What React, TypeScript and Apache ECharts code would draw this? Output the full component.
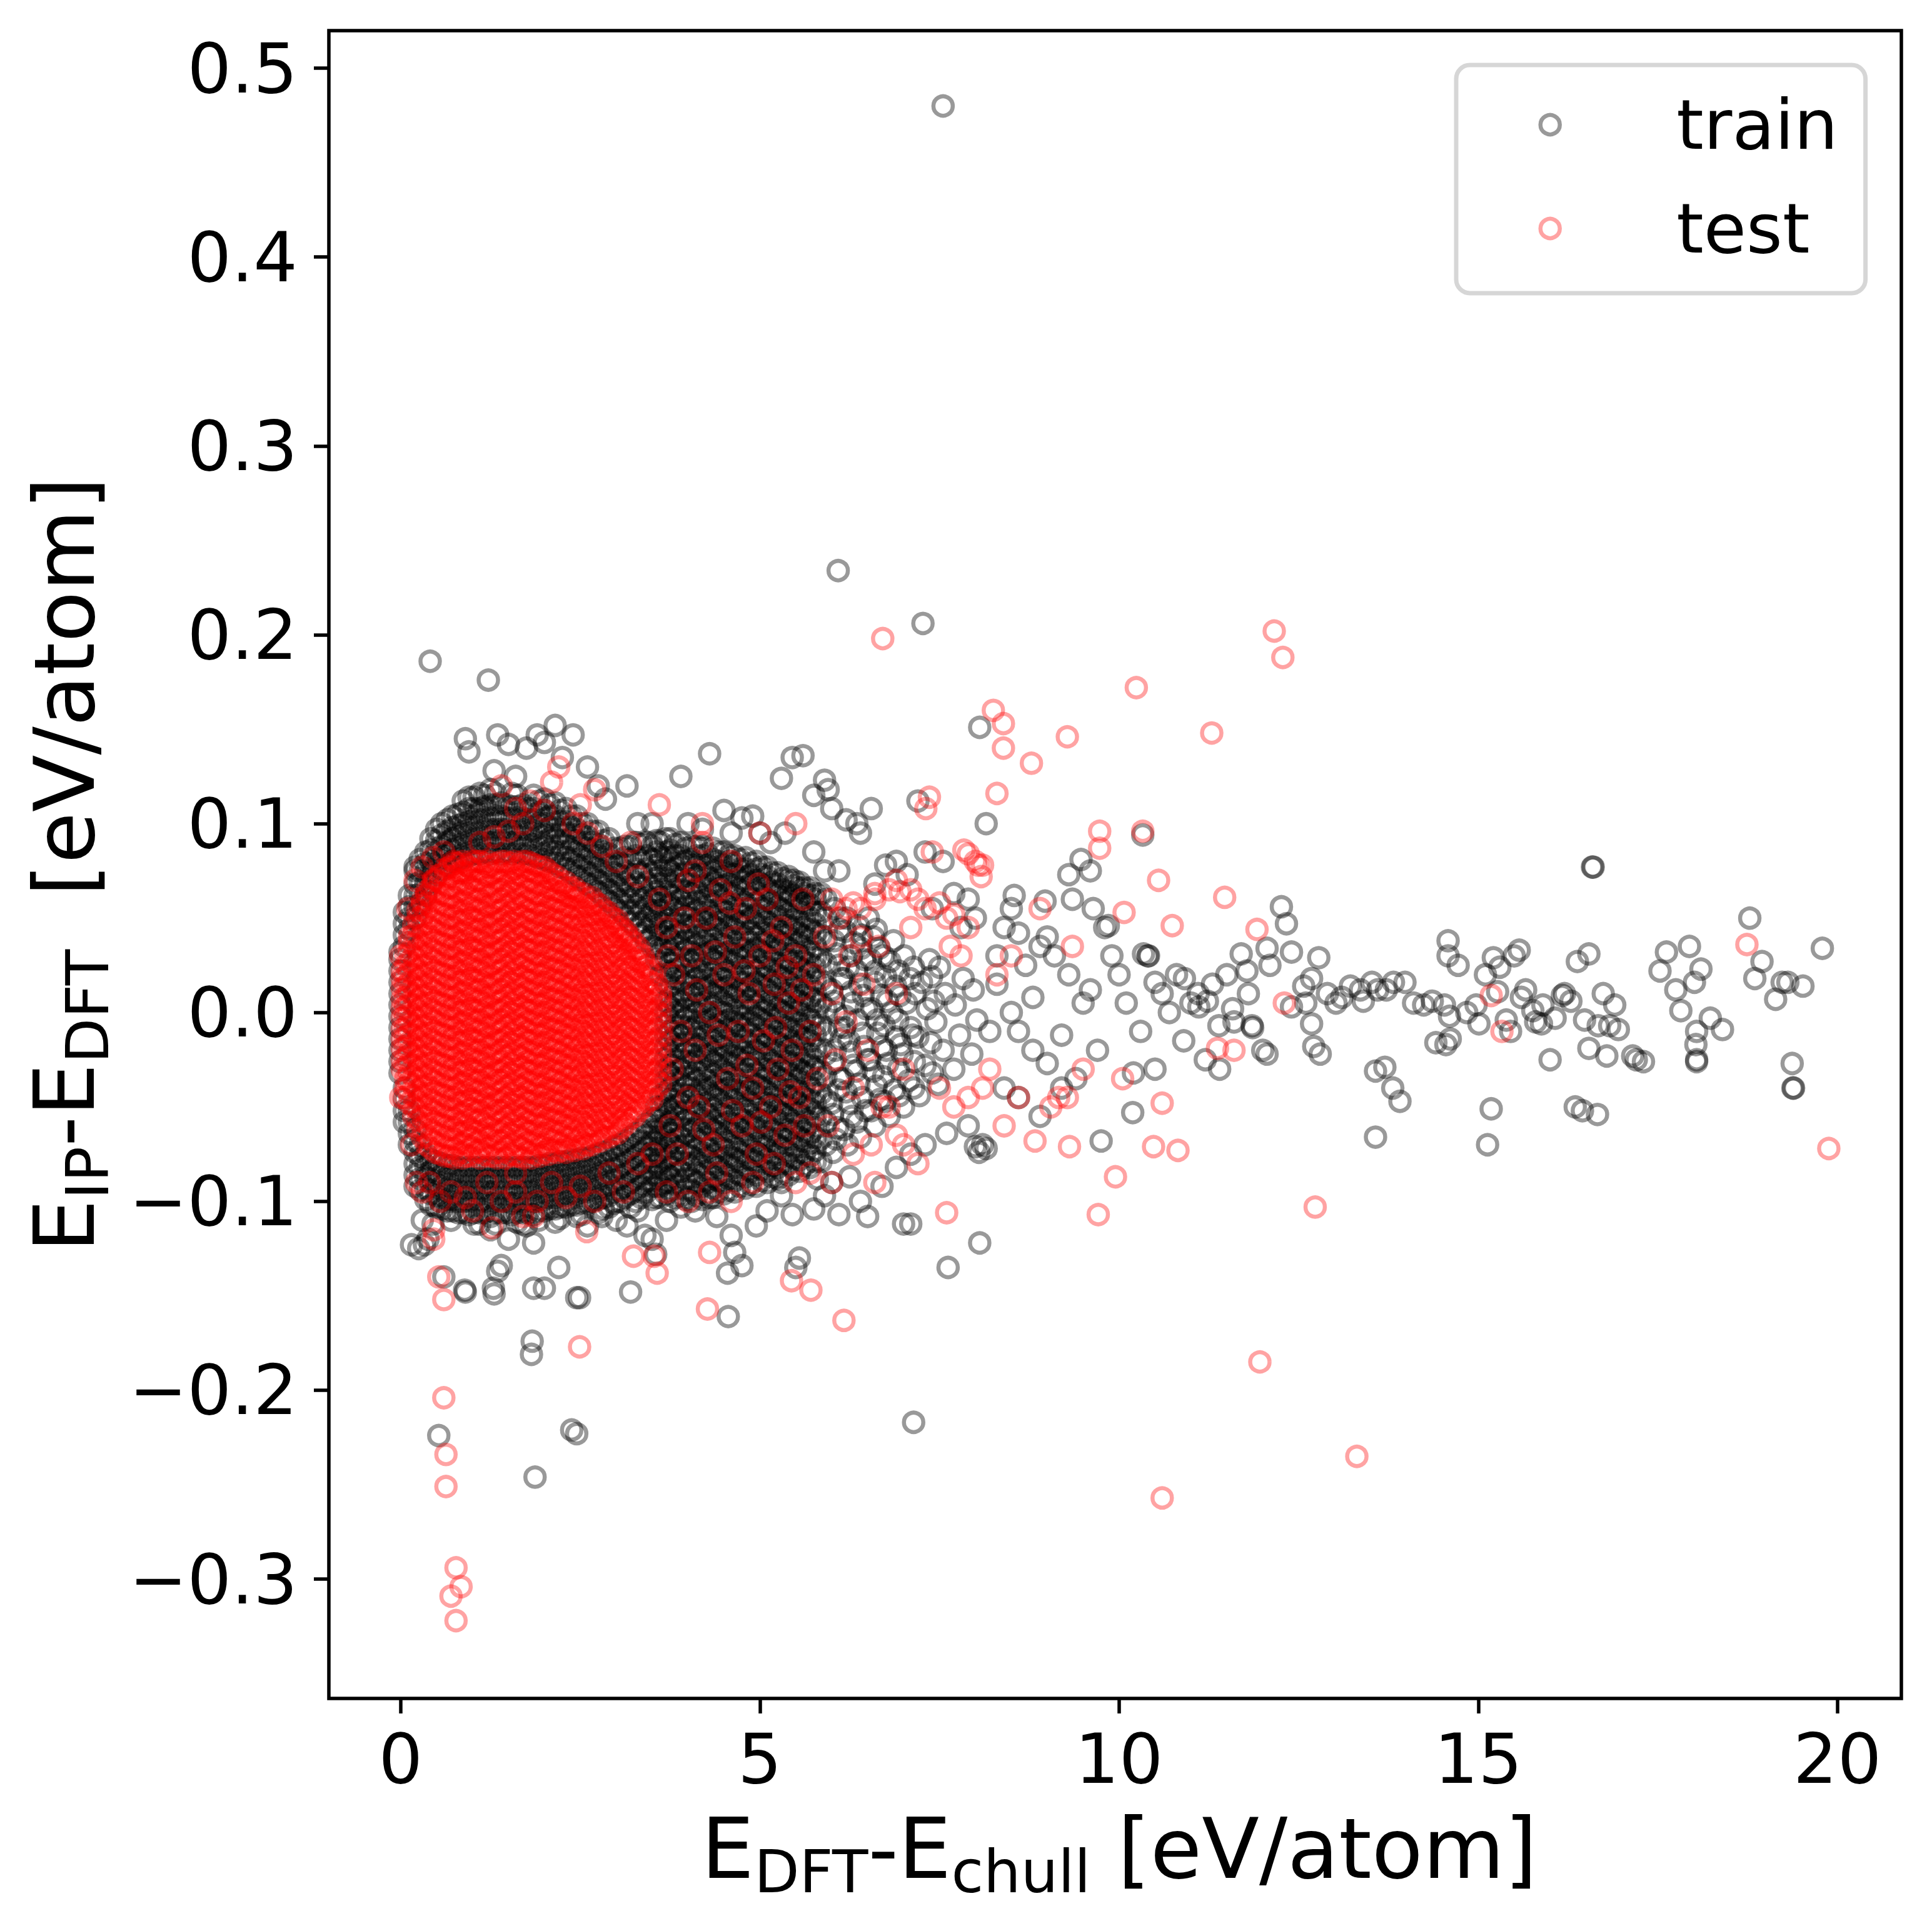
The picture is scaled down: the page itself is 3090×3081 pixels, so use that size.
import React, { useEffect, useRef } from 'react';
import * as echarts from 'echarts';

const FONT = 'DejaVu Sans';

const xTicks = [0, 5, 10, 15, 20];
const yTicks = [-0.3, -0.2, -0.1, 0, 0.1, 0.2, 0.3, 0.4, 0.5];

// Dense core of the test cloud: [x, y values in 1/1000 eV/atom]
const testCore: [number, number[]][] = [
  [0.02, [-30, -25, -19, -14, -9, -3, 2, 7, 13, 18, 22]],
  [0.12, [-48, -43, -37, -32, -27, -21, -16, -11, -5, 0, 5, 11, 16, 21, 27, 32, 37, 40]],
  [0.24, [-62, -57, -51, -46, -41, -35, -30, -25, -19, -14, -9, -3, 2, 7, 13, 18, 23, 29, 34, 39, 45, 50, 54]],
  [0.36, [-70, -65, -59, -54, -49, -43, -38, -33, -27, -22, -17, -11, -6, -1, 5, 10, 15, 21, 26, 31, 37, 42, 47, 53, 58, 62, 64]],
  [0.48, [-74, -69, -64, -58, -53, -48, -42, -37, -32, -26, -21, -16, -10, -5, 0, 6, 11, 16, 22, 27, 32, 38, 43, 48, 54, 59, 64, 70, 71]],
  [0.62, [-76, -71, -66, -60, -55, -50, -44, -39, -34, -28, -23, -18, -12, -7, -2, 4, 9, 14, 20, 25, 30, 36, 41, 46, 52, 57, 62, 68, 73, 76]],
  [0.74, [-77, -72, -67, -61, -56, -51, -45, -40, -35, -29, -24, -19, -13, -8, -3, 3, 8, 13, 19, 24, 29, 35, 40, 45, 51, 56, 61, 67, 72, 77, 80]],
  [0.86, [-77, -74, -69, -63, -58, -53, -47, -42, -37, -31, -26, -21, -15, -10, -5, 1, 6, 11, 17, 22, 27, 33, 38, 43, 49, 54, 59, 65, 70, 75, 80]],
  [0.98, [-76, -71, -66, -62, -57, -51, -46, -41, -36, -30, -25, -20, -14, -9, -4, 2, 7, 12, 18, 23, 28, 34, 39, 44, 50, 55, 60, 66, 71, 76, 80]],
  [1.10, [-77, -73, -68, -63, -57, -52, -47, -42, -36, -31, -26, -20, -15, -10, -4, 1, 6, 12, 17, 22, 28, 33, 38, 44, 49, 54, 60, 65, 70, 76, 80]],
  [1.22, [-76, -72, -66, -61, -56, -50, -45, -40, -34, -29, -24, -18, -13, -8, -2, 3, 8, 14, 19, 24, 30, 35, 40, 46, 51, 56, 62, 67, 72, 77, 80]],
  [1.34, [-77, -74, -68, -63, -58, -52, -47, -42, -36, -31, -26, -21, -15, -10, -5, 1, 6, 11, 16, 22, 27, 32, 38, 43, 48, 54, 59, 64, 70, 75, 79]],
  [1.46, [-77, -71, -66, -61, -55, -50, -45, -39, -34, -29, -23, -18, -13, -7, -2, 3, 9, 14, 19, 25, 30, 35, 41, 46, 51, 57, 62, 67, 73, 78, 80]],
  [1.58, [-76, -73, -68, -62, -57, -52, -46, -41, -36, -30, -25, -20, -14, -9, -4, 2, 7, 12, 18, 23, 28, 34, 39, 44, 50, 55, 60, 66, 71, 76, 80]],
  [1.70, [-77, -72, -67, -61, -56, -51, -45, -40, -35, -29, -24, -19, -13, -8, -3, 3, 8, 13, 19, 24, 29, 35, 40, 45, 51, 56, 61, 67, 72, 77, 80]],
  [1.82, [-77, -74, -69, -63, -58, -53, -47, -42, -37, -31, -26, -21, -15, -10, -5, 1, 6, 11, 17, 22, 27, 33, 38, 43, 49, 54, 59, 65, 70, 75, 79]],
  [1.94, [-76, -71, -66, -60, -55, -50, -44, -39, -34, -28, -23, -18, -12, -7, -2, 4, 9, 14, 20, 25, 30, 36, 41, 46, 52, 57, 62, 68, 73, 77]],
  [2.06, [-75, -72, -67, -62, -56, -51, -46, -40, -35, -30, -24, -19, -14, -8, -3, 2, 8, 13, 18, 24, 29, 34, 40, 45, 50, 56, 61, 66, 71, 75]],
  [2.18, [-74, -69, -64, -58, -53, -48, -42, -37, -32, -26, -21, -16, -10, -5, 0, 6, 11, 16, 22, 27, 32, 38, 43, 48, 54, 59, 64, 69, 72]],
  [2.30, [-74, -71, -66, -60, -55, -50, -44, -39, -34, -28, -23, -18, -12, -7, -2, 4, 9, 14, 20, 25, 30, 36, 41, 46, 52, 57, 62, 66, 69]],
  [2.42, [-73, -68, -63, -57, -52, -47, -41, -36, -31, -25, -20, -15, -9, -4, 1, 7, 12, 17, 23, 28, 33, 39, 44, 49, 55, 60, 64, 66]],
  [2.54, [-72, -69, -64, -58, -53, -48, -42, -37, -32, -26, -21, -16, -10, -5, 0, 6, 11, 16, 22, 27, 32, 38, 43, 48, 54, 58, 63]],
  [2.66, [-70, -65, -60, -54, -49, -44, -38, -33, -28, -22, -17, -12, -6, -1, 4, 10, 15, 20, 26, 31, 36, 42, 47, 52, 57, 61]],
  [2.78, [-68, -65, -60, -54, -49, -44, -38, -33, -28, -22, -17, -12, -6, -1, 4, 10, 15, 20, 26, 31, 36, 42, 47, 52, 57]],
  [2.90, [-66, -61, -56, -50, -45, -40, -34, -29, -24, -18, -13, -8, -2, 3, 8, 14, 19, 24, 30, 35, 40, 46, 51, 53]],
  [3.02, [-64, -61, -56, -50, -45, -40, -34, -29, -24, -18, -13, -8, -2, 3, 8, 14, 19, 24, 30, 35, 40, 45, 49]],
  [3.14, [-59, -54, -49, -43, -38, -33, -27, -22, -17, -11, -6, -1, 5, 10, 15, 21, 26, 31, 37, 41, 43]],
  [3.26, [-55, -52, -47, -41, -36, -31, -25, -20, -15, -9, -4, 1, 7, 12, 17, 23, 28, 33, 37]],
  [3.38, [-50, -45, -40, -34, -29, -24, -18, -13, -8, -2, 3, 8, 14, 19, 24, 28, 30]],
  [3.50, [-46, -43, -38, -32, -27, -22, -16, -11, -6, 0, 5, 10, 16, 20, 22]],
  [3.62, [-38, -33, -28, -22, -17, -12, -6, -1, 4, 8, 10]],
];

// Second, interleaved layer of the test core: [x, y values in 1/1000 eV/atom]
const testCore2: [number, number[]][] = [
  [0.07, [-40, -35, -29, -24, -18, -13, -8, -2, 3, 8, 14, 19, 25, 30]],
  [0.18, [-55, -50, -44, -39, -34, -28, -23, -18, -12, -7, -2, 4, 9, 14, 20, 25, 30, 36, 41, 46]],
  [0.30, [-66, -61, -55, -50, -45, -39, -34, -29, -23, -18, -13, -7, -2, 3, 9, 14, 19, 25, 30, 35, 41, 46, 51, 57, 59]],
  [0.42, [-72, -67, -62, -56, -51, -46, -40, -35, -30, -24, -19, -14, -8, -3, 2, 8, 13, 18, 24, 29, 34, 40, 45, 50, 56, 61, 66]],
  [0.55, [-75, -70, -65, -59, -54, -49, -43, -38, -33, -27, -22, -17, -11, -6, -1, 5, 10, 15, 21, 26, 31, 37, 42, 47, 53, 58, 63, 69, 73]],
  [0.68, [-76, -72, -67, -62, -56, -51, -46, -40, -35, -30, -24, -19, -14, -8, -3, 2, 8, 13, 18, 24, 29, 34, 40, 45, 50, 56, 61, 66, 72, 77]],
  [0.80, [-75, -70, -64, -59, -54, -48, -43, -38, -32, -27, -22, -16, -11, -6, 0, 5, 10, 16, 21, 26, 32, 37, 42, 48, 53, 58, 64, 69, 74, 79]],
  [0.92, [-76, -70, -65, -60, -54, -49, -44, -38, -33, -28, -22, -17, -12, -6, -1, 4, 10, 15, 20, 26, 31, 36, 42, 47, 52, 58, 63, 68, 74, 78]],
  [1.04, [-74, -69, -63, -58, -53, -47, -42, -37, -31, -26, -21, -15, -10, -5, 1, 6, 11, 17, 22, 27, 33, 38, 43, 49, 54, 59, 65, 70, 75, 80]],
  [1.16, [-75, -71, -64, -59, -55, -48, -43, -39, -32, -27, -23, -16, -11, -7, 0, 5, 9, 16, 21, 25, 32, 37, 41, 48, 53, 57, 64, 69, 73, 79]],
  [1.28, [-76, -70, -65, -61, -54, -49, -45, -38, -33, -29, -22, -17, -13, -6, -1, 3, 10, 15, 19, 26, 31, 35, 42, 47, 51, 58, 63, 67, 74, 78]],
  [1.40, [-74, -68, -63, -58, -52, -47, -42, -36, -31, -26, -20, -15, -10, -4, 1, 6, 12, 17, 22, 28, 33, 38, 44, 49, 54, 60, 65, 70, 75, 80]],
  [1.52, [-75, -70, -64, -59, -54, -48, -43, -38, -32, -27, -22, -16, -11, -6, 0, 5, 10, 16, 21, 26, 32, 37, 42, 48, 53, 58, 64, 69, 74, 79]],
  [1.64, [-76, -71, -65, -60, -55, -49, -44, -39, -33, -28, -23, -17, -12, -7, -1, 4, 9, 15, 20, 25, 31, 36, 41, 47, 52, 57, 63, 68, 73, 78]],
  [1.76, [-74, -69, -63, -58, -53, -47, -42, -37, -31, -26, -21, -15, -10, -5, 1, 6, 11, 17, 22, 27, 33, 38, 43, 49, 54, 59, 65, 70, 75, 80]],
  [1.88, [-75, -70, -65, -59, -54, -49, -43, -38, -33, -27, -22, -17, -11, -6, -1, 5, 10, 15, 21, 26, 31, 37, 42, 47, 53, 58, 63, 69, 74, 78]],
  [2.00, [-74, -70, -64, -59, -54, -48, -43, -38, -32, -27, -22, -16, -11, -6, 0, 5, 10, 16, 21, 26, 32, 37, 42, 48, 53, 58, 64, 69, 74, 77]],
  [2.12, [-73, -68, -63, -57, -52, -47, -41, -36, -31, -25, -20, -15, -9, -4, 1, 7, 12, 17, 23, 28, 33, 39, 44, 49, 55, 60, 65, 70, 73]],
  [2.24, [-73, -69, -63, -58, -53, -47, -42, -37, -31, -26, -21, -15, -10, -5, 1, 6, 11, 17, 22, 27, 33, 38, 43, 49, 54, 59, 64, 68]],
  [2.36, [-72, -66, -61, -56, -50, -45, -40, -34, -29, -24, -18, -13, -8, -2, 3, 8, 14, 19, 24, 30, 35, 40, 46, 51, 56, 61, 66]],
  [2.48, [-71, -66, -61, -55, -50, -45, -39, -34, -29, -23, -18, -13, -7, -2, 3, 9, 14, 19, 25, 30, 35, 41, 46, 51, 56, 61, 63]],
  [2.60, [-70, -66, -61, -55, -50, -45, -39, -34, -29, -23, -18, -13, -7, -2, 3, 9, 14, 19, 25, 30, 35, 41, 46, 51, 56, 60]],
  [2.72, [-68, -63, -57, -52, -47, -41, -36, -31, -25, -20, -15, -9, -4, 1, 7, 12, 17, 23, 28, 33, 39, 44, 49, 54, 58]],
  [2.84, [-66, -62, -57, -52, -46, -41, -36, -30, -25, -20, -14, -9, -4, 2, 7, 12, 18, 23, 28, 34, 39, 44, 50, 54]],
  [2.96, [-64, -59, -53, -48, -43, -37, -32, -27, -21, -16, -11, -5, 0, 5, 11, 16, 21, 27, 32, 37, 43, 47, 50]],
  [3.08, [-61, -57, -52, -47, -41, -36, -31, -25, -20, -15, -9, -4, 1, 7, 12, 17, 23, 28, 33, 39, 43, 45]],
  [3.20, [-56, -51, -46, -40, -35, -30, -24, -19, -14, -8, -3, 2, 8, 13, 18, 24, 29, 34, 38, 40]],
  [3.32, [-52, -48, -43, -37, -32, -27, -21, -16, -11, -5, 0, 5, 11, 16, 21, 27, 31, 34]],
  [3.44, [-47, -42, -37, -31, -26, -21, -15, -10, -5, 1, 6, 11, 17, 22, 25]],
  [3.56, [-41, -36, -31, -25, -20, -15, -9, -4, 1, 7, 12, 15]],
];

// Dense part of the train cloud: [x, y values in 1/1000 eV/atom]
const trainCols: [number, number[]][] = [
  [-0.01, [-32, -26, -20, -14, -8, -2, 4, 10, 16, 22, 28, 32]],
  [0.05, [35, 41, 47, 53, -40, -46, -52, -58]],
  [0.12, [44, 50, 56, 62, -52, -58, -64, -70]],
  [0.2, [50, 56, 62, 68, 75, -62, -68, -74, -80, -86, -92]],
  [0.27, [57, 63, 69, 75, 81, -70, -76, -82, -88, -94]],
  [0.35, [62, 68, 74, 79, 85, -75, -81, -87, -93, -99]],
  [0.42, [68, 74, 80, 86, 92, -78, -84, -90, -96, -102]],
  [0.5, [73, 79, 85, 91, 97, -79, -85, -91, -97, -103]],
  [0.57, [76, 82, 88, 94, 100, -80, -86, -92, -98, -104]],
  [0.65, [78, 84, 90, 96, 102, -81, -87, -93, -99, -105]],
  [0.72, [80, 86, 92, 98, 104, -81, -87, -93, -99, -105]],
  [0.8, [81, 87, 93, 99, 105, -82, -88, -94, -100, -106]],
  [0.87, [82, 88, 94, 100, 106, 112, -82, -88, -94, -100, -106]],
  [0.95, [83, 89, 95, 101, 108, 114, -82, -88, -94, -100, -107]],
  [1.02, [84, 90, 96, 102, 108, 114, -82, -88, -94, -100, -106, -112]],
  [1.1, [84, 90, 96, 102, 108, 116, -82, -88, -94, -100, -106, -112]],
  [1.17, [85, 91, 97, 103, 109, 115, -82, -88, -94, -100, -106]],
  [1.25, [84, 90, 97, 103, 110, 118, -82, -88, -95, -101, -108]],
  [1.32, [85, 91, 97, 104, 110, 116, -82, -88, -94, -100, -106, -112]],
  [1.4, [84, 91, 97, 104, 111, -82, -88, -94, -100, -106]],
  [1.47, [85, 91, 97, 103, 110, -82, -88, -94, -100, -106]],
  [1.55, [84, 90, 96, 103, 109, 116, -82, -88, -95, -101, -107]],
  [1.62, [85, 91, 97, 103, 109, 115, -82, -88, -94, -100, -106, -111]],
  [1.7, [84, 90, 97, 103, 110, -82, -88, -94, -100, -106, -112]],
  [1.77, [84, 90, 96, 102, 108, -82, -88, -94, -100, -106]],
  [1.85, [83, 89, 96, 102, 108, 115, -82, -88, -94, -100, -107]],
  [1.92, [82, 88, 94, 100, 106, 112, -81, -87, -93, -99, -105, -110]],
  [2.0, [81, 88, 94, 100, 107, 113, -81, -87, -93, -99, -105]],
  [2.07, [80, 86, 92, 98, 104, 110, -80, -86, -92, -98, -104]],
  [2.15, [79, 85, 92, 98, 104, 111, -80, -86, -92, -98, -104, -111]],
  [2.22, [77, 83, 89, 95, 101, 107, -79, -85, -91, -97, -103, -109]],
  [2.3, [76, 82, 89, 95, 101, 108, -79, -85, -91, -97, -103]],
  [2.37, [74, 80, 86, 92, 98, 104, -78, -84, -90, -96, -102]],
  [2.45, [72, 78, 85, 91, 97, 104, -78, -84, -90, -96, -102, -108]],
  [2.52, [70, 76, 82, 88, 94, 100, -77, -83, -89, -95, -101, -107]],
  [2.6, [68, 74, 81, 87, 93, 100, -77, -83, -89, -95, -101]],
  [2.67, [66, 72, 78, 84, 90, 96, -76, -82, -88, -94, -100]],
  [2.75, [64, 70, 77, 83, 89, 96, -75, -81, -87, -93, -99, -106]],
  [2.82, [61, 67, 73, 79, 85, 91, -74, -80, -86, -92, -98, -104]],
  [2.9, [59, 65, 72, 78, 84, 92, -73, -79, -85, -91, -97, -103]],
  [2.97, [56, 62, 68, 74, 80, 87, -71, -77, -83, -89, -95, -101]],
  [3.05, [54, 60, 67, 73, 79, 87, -70, -76, -82, -88, -94, -100]],
  [3.12, [51, 57, 63, 69, 75, 82, 88, -68, -74, -80, -86, -92, -98]],
  [3.2, [48, 54, 61, 67, 73, 81, 88, -66, -72, -78, -84, -90, -96, -103]],
  [3.27, [45, 51, 57, 63, 69, 76, 83, 90, -64, -70, -76, -82, -88, -94, -100]],
  [3.35, [42, 48, 55, 61, 67, 74, 82, 89, -62, -68, -74, -80, -86, -92, -98]],
  [3.42, [38, 44, 50, 56, 62, 69, 76, 83, 90, -59, -65, -71, -77, -83, -89, -95]],
  [3.5, [35, 41, 48, 54, 60, 67, 74, 81, 88, -56, -62, -68, -74, -80, -86, -92, -99]],
  [3.56, [28, 34, 40, 46, 52, 58, 64, 71, 78, 85, 91, -50, -56, -62, -68, -74, -80, -86, -92, -98]],
  [3.62, [20, 27, 34, 41, 47, 54, 61, 68, 75, 82, 90, -44, -50, -56, -62, -68, -74, -80, -86, -92, -98]],
  [3.69, [-96, -90, -84, -78, -72, -66, -60, -54, -48, -42, -36, -30, -24, -18, -12, -6, 0, 6, 15, 22, 29, 36, 43, 50, 57, 64, 71, 78, 85, 92]],
  [3.75, [-100, -94, -87, -82, -76, -69, -64, -58, -51, -46, -40, -33, -28, -22, -15, -10, -4, 3, 8, 14, 21, 26, 32, 39, 44, 50, 57, 62, 68, 75, 80, 86, 92]],
  [3.82, [-98, -91, -85, -79, -72, -67, -61, -54, -49, -43, -36, -31, -25, -18, -13, -7, 0, 5, 11, 18, 23, 29, 36, 41, 47, 54, 59, 65, 72, 77, 83, 89]],
  [3.9, [-97, -91, -84, -79, -73, -66, -61, -55, -48, -43, -37, -30, -25, -19, -12, -7, -1, 6, 11, 17, 24, 29, 35, 42, 47, 53, 60, 65, 71, 78, 83, 90]],
  [3.97, [-99, -94, -88, -82, -75, -70, -64, -57, -52, -46, -39, -34, -28, -21, -16, -10, -3, 2, 8, 15, 20, 26, 33, 38, 44, 51, 56, 62, 69, 74, 80, 87]],
  [4.05, [-100, -94, -88, -81, -76, -70, -63, -58, -52, -45, -40, -34, -27, -22, -16, -9, -4, 2, 9, 14, 20, 27, 32, 38, 45, 50, 56, 63, 68, 74, 81, 88]],
  [4.12, [-97, -90, -85, -79, -72, -67, -61, -54, -49, -43, -36, -31, -25, -18, -13, -7, 0, 5, 11, 18, 23, 29, 36, 41, 47, 54, 59, 65, 72, 77, 83, 88]],
  [4.2, [-99, -92, -86, -80, -74, -68, -62, -56, -50, -43, -38, -31, -25, -19, -13, -7, -1, 5, 12, 17, 23, 30, 35, 41, 48, 53, 59, 66, 71, 77, 83, 88]],
  [4.27, [-96, -90, -84, -77, -72, -66, -59, -54, -48, -41, -36, -30, -23, -18, -12, -5, 0, 6, 13, 18, 24, 31, 36, 42, 49, 54, 60, 67, 72, 78, 84]],
  [4.35, [-98, -93, -87, -80, -75, -69, -62, -57, -51, -44, -39, -33, -26, -21, -15, -8, -3, 3, 10, 15, 21, 28, 33, 39, 46, 51, 57, 64, 69, 75, 81, 87]],
  [4.42, [-95, -89, -82, -77, -71, -64, -59, -53, -46, -41, -35, -28, -23, -17, -10, -5, 1, 8, 13, 19, 26, 31, 37, 44, 49, 55, 62, 67, 73, 80, 85]],
  [4.5, [-96, -90, -84, -77, -72, -66, -59, -54, -48, -41, -36, -30, -23, -18, -12, -5, 0, 6, 13, 18, 24, 31, 36, 42, 49, 54, 60, 67, 72, 78, 85]],
  [4.57, [-94, -88, -81, -76, -70, -63, -58, -52, -45, -40, -34, -27, -22, -16, -9, -4, 2, 9, 14, 20, 27, 32, 38, 45, 50, 56, 63, 68, 74, 80, 83]],
  [4.65, [-95, -89, -82, -77, -71, -64, -59, -53, -46, -41, -35, -28, -23, -17, -10, -5, 1, 8, 13, 19, 26, 31, 37, 44, 49, 55, 62, 67, 73, 79, 83]],
  [4.72, [-92, -86, -79, -74, -68, -61, -56, -50, -43, -38, -32, -25, -20, -14, -7, -2, 4, 11, 16, 22, 29, 34, 40, 47, 52, 58, 65, 70, 76, 81]],
  [4.8, [-93, -87, -81, -75, -69, -63, -57, -51, -44, -39, -32, -26, -20, -14, -8, -2, 4, 11, 16, 22, 29, 34, 40, 47, 52, 58, 65, 70, 76, 82]],
  [4.87, [-91, -84, -78, -72, -66, -60, -54, -48, -41, -36, -29, -23, -17, -11, -5, 1, 7, 14, 19, 25, 32, 37, 43, 50, 55, 61, 68, 73, 79]],
  [4.95, [-92, -86, -79, -74, -68, -61, -56, -50, -43, -38, -32, -25, -20, -14, -7, -2, 4, 11, 16, 22, 29, 34, 40, 47, 52, 58, 65, 70, 76, 80]],
  [5.02, [-89, -83, -76, -71, -65, -58, -53, -47, -40, -35, -29, -22, -17, -11, -4, 1, 7, 14, 19, 25, 32, 37, 43, 50, 55, 61, 68, 73, 77]],
  [5.1, [-90, -84, -78, -71, -66, -60, -53, -48, -42, -35, -30, -24, -17, -12, -6, 1, 6, 12, 19, 24, 30, 37, 42, 48, 55, 60, 66, 72, 77]],
  [5.17, [-87, -81, -75, -68, -63, -57, -50, -45, -39, -32, -27, -21, -14, -9, -3, 4, 9, 15, 22, 27, 33, 40, 45, 51, 58, 63, 69, 74]],
  [5.25, [-88, -82, -75, -70, -64, -57, -52, -46, -39, -34, -28, -21, -16, -10, -3, 2, 8, 15, 20, 26, 33, 38, 44, 51, 56, 62, 68, 74]],
  [5.32, [-85, -79, -72, -67, -61, -54, -49, -43, -36, -31, -25, -18, -13, -7, 0, 5, 11, 18, 23, 29, 36, 41, 47, 54, 59, 65, 71]],
  [5.4, [-86, -80, -74, -67, -62, -56, -49, -44, -38, -31, -26, -20, -13, -8, -2, 5, 10, 16, 23, 28, 34, 41, 46, 52, 59, 64, 70, 72]],
  [5.47, [-83, -77, -71, -64, -59, -53, -46, -41, -35, -28, -23, -17, -10, -5, 1, 8, 13, 19, 26, 31, 37, 44, 49, 55, 62, 67, 70]],
  [5.55, [-84, -78, -71, -66, -60, -53, -48, -42, -35, -30, -24, -17, -12, -6, 1, 6, 12, 19, 24, 30, 37, 42, 48, 55, 60, 66, 69]],
  [5.62, [-81, -75, -68, -63, -57, -50, -45, -39, -32, -27, -21, -14, -9, -3, 4, 9, 15, 22, 27, 33, 40, 45, 51, 58, 63, 66]],
  [5.7, [-82, -76, -69, -64, -58, -51, -46, -40, -33, -28, -22, -15, -10, -4, 3, 8, 14, 21, 26, 32, 39, 44, 50, 57, 62, 66]],
  [5.77, [-79, -73, -66, -61, -55, -48, -43, -37, -30, -25, -19, -12, -7, -1, 6, 11, 17, 24, 29, 35, 42, 47, 53, 60, 63]],
  [5.85, [-79, -67, -55, -43, -31, -19, -7, 5, 17, 29, 41, 53, 63]],
  [5.92, [-70, -58, -46, -34, -22, -10, 2, 14, 26, 38, 50, 60]],
];

// Individual train points: [x, y] in eV/atom
const trainPoints: [number, number][] = [
  [6.02, -0.074], [6.08, -0.061], [6.0, -0.048], [6.12, -0.035], [6.05, -0.02], [6.1, -0.008], [6.03, 0.006], [6.14, 0.018], [6.07, 0.031], [6.11, 0.044], [6.04, 0.055],
  [6.22, -0.07], [6.28, -0.055], [6.2, -0.042], [6.3, -0.028], [6.24, -0.015], [6.19, -0.002], [6.27, 0.011], [6.23, 0.024], [6.31, 0.037], [6.21, 0.05],
  [6.4, -0.066], [6.47, -0.052], [6.38, -0.038], [6.5, -0.025], [6.43, -0.011], [6.48, 0.002], [6.39, 0.015], [6.46, 0.028], [6.42, 0.041], [6.51, 0.05],
  [6.6, -0.06], [6.67, -0.046], [6.58, -0.031], [6.7, -0.018], [6.63, -0.004], [6.69, 0.009], [6.61, 0.022], [6.66, 0.034], [6.62, 0.044],
  [6.8, -0.055], [6.87, -0.041], [6.78, -0.027], [6.9, -0.013], [6.84, 0.0], [6.89, 0.014], [6.81, 0.027], [6.86, 0.038],
  [7.0, -0.05], [7.07, -0.036], [6.98, -0.022], [7.1, -0.008], [7.04, 0.005], [7.09, 0.018], [7.01, 0.03],
  [7.22, -0.044], [7.3, -0.028], [7.2, -0.013], [7.33, 0.002], [7.25, 0.016], [7.36, 0.028],
  [7.48, -0.038], [7.55, -0.02], [7.45, -0.005], [7.58, 0.01], [7.5, 0.024],
  [7.7, -0.03], [7.78, -0.012], [7.72, 0.004], [7.83, 0.018], [7.95, -0.022], [8.02, -0.004], [7.97, 0.012],
  [6.06, -0.067], [6.01, -0.054], [6.09, -0.041], [6.02, -0.027], [6.13, -0.014], [6.06, 0.0], [6.0, 0.012], [6.1, 0.025], [6.03, 0.038], [6.12, 0.05],
  [6.17, -0.062], [6.25, -0.048], [6.16, -0.035], [6.26, -0.021], [6.18, -0.008], [6.29, 0.005], [6.17, 0.018], [6.27, 0.03], [6.19, 0.043],
  [6.35, -0.058], [6.43, -0.045], [6.34, -0.031], [6.45, -0.018], [6.36, -0.004], [6.44, 0.009], [6.35, 0.022], [6.41, 0.034], [6.37, 0.046],
  [6.55, -0.052], [6.62, -0.039], [6.53, -0.025], [6.64, -0.011], [6.56, 0.002], [6.6, 0.016], [6.54, 0.028], [6.58, 0.04],
  [6.74, -0.047], [6.72, -0.034], [6.76, -0.02], [6.73, -0.007], [6.77, 0.006], [6.75, 0.019], [6.72, 0.03],
  [6.94, -0.044], [6.93, -0.03], [6.96, -0.017], [6.92, -0.004], [6.95, 0.009], [6.93, 0.022],
  [7.14, -0.04], [7.15, -0.026], [7.13, -0.012], [7.16, 0.01], [7.14, 0.024],
  [7.4, -0.032], [7.38, -0.016], [7.42, 0.006], [7.39, 0.019],
  // upper fringe
  [0.2, 0.077], [0.9, 0.145], [0.95, 0.138], [1.22, 0.176], [0.41, 0.186], [1.3, 0.128], [1.35, 0.147], [1.5, 0.142], [1.6, 0.125], [1.75, 0.14],
  [1.9, 0.147], [2.0, 0.143], [2.15, 0.152], [2.25, 0.135], [2.4, 0.147], [2.6, 0.13], [2.75, 0.12], [2.85, 0.113], [3.15, 0.12], [3.3, 0.1],
  [3.5, 0.1], [3.9, 0.125], [4.0, 0.1], [4.2, 0.097], [4.3, 0.137], [4.5, 0.107], [4.75, 0.103], [4.9, 0.104], [5.0, 0.095], [5.15, 0.09],
  [5.3, 0.124], [5.45, 0.135], [5.6, 0.136], [5.75, 0.115], [5.9, 0.123], [5.95, 0.118], [6.0, 0.108], [6.2, 0.102], [6.35, 0.1], [6.55, 0.108],
  [6.4, 0.095], [6.75, 0.078], [6.9, 0.08], [7.05, 0.073], [7.2, 0.112], [7.3, 0.085], [7.55, 0.08], [7.4, 0.055], [7.7, 0.063], [7.9, 0.06],
  [8.15, 0.1], [7.8, 0.045], [8.0, 0.05], [5.35, 0.095], [4.6, 0.095], [6.1, 0.075], [6.6, 0.068], [5.75, 0.085], [5.9, 0.075],
  // lower fringe
  [0.15, -0.123], [0.25, -0.125], [0.3, -0.11], [0.45, -0.112], [0.55, -0.1], [0.6, -0.14], [0.9, -0.148], [0.7, -0.11], [1.25, -0.115], [1.3, -0.149],
  [1.4, -0.134], [1.35, -0.137], [1.5, -0.12], [1.85, -0.122], [1.75, -0.113], [2.0, -0.146], [2.2, -0.135], [2.45, -0.151], [2.6, -0.113], [2.8, -0.108],
  [3.0, -0.11], [3.2, -0.148], [3.15, -0.113], [3.4, -0.118], [3.55, -0.128], [3.5, -0.12], [3.9, -0.103], [4.1, -0.105], [4.3, -0.098], [4.6, -0.118],
  [4.65, -0.127], [4.55, -0.138], [4.75, -0.134], [4.95, -0.113], [5.1, -0.105], [5.3, -0.097], [5.45, -0.107], [5.55, -0.13], [5.75, -0.104], [5.9, -0.097],
  [6.1, -0.107], [6.25, -0.087], [6.5, -0.108], [6.7, -0.092], [6.9, -0.082], [7.0, -0.112], [7.1, -0.075], [7.3, -0.07], [7.6, -0.064], [7.9, -0.06],
  [8.05, -0.074], [8.15, -0.072], [6.4, -0.1], [5.3, -0.09], [5.8, -0.088], [6.0, -0.09], [4.4, -0.108], [3.7, -0.11], [3.3, -0.105],
  // far outliers
  [7.55, 0.48], [6.09, 0.234], [7.27, 0.206], [8.06, 0.151], [7.62, -0.135], [7.14, -0.217], [8.06, -0.122], [7.1, -0.112],
  [1.87, -0.246], [1.82, -0.181], [1.83, -0.174], [2.38, -0.221], [2.45, -0.223], [0.53, -0.224], [2.49, -0.151], [1.85, -0.146],
  [0.89, -0.147], [4.56, -0.161], [5.5, -0.135], [0.33, -0.123], [0.38, -0.12], [1.29, -0.146],
  // middle range
  [8.54, 0.062], [8.97, 0.059], [9.3, 0.073], [9.47, 0.081], [10.33, 0.094], [9.64, 0.055], [9.85, 0.046], [10.34, 0.031], [10.41, 0.03],
  [10.5, 0.016], [10.91, 0.018], [11.11, 0.003], [11.23, 0.006], [11.39, -0.007], [11.58, 0.002],
  [8.3, 0.03], [8.4, 0.045], [8.5, 0.055], [8.6, 0.042], [8.7, 0.025], [8.9, 0.035], [9.0, 0.04], [9.1, 0.03], [9.3, 0.02], [8.5, 0.0],
  [8.6, -0.01], [8.8, -0.02], [9.0, -0.027], [8.4, -0.04], [8.6, -0.045], [8.9, -0.055], [9.2, -0.04], [9.4, -0.035], [9.5, 0.005], [9.6, 0.012],
  [9.8, 0.045], [10.0, 0.02], [10.1, 0.005], [10.3, -0.01], [10.4, 0.03], [10.5, -0.03], [10.6, 0.01], [10.8, 0.02], [10.9, -0.015], [11.0, 0.005],
  [11.1, 0.01], [11.2, -0.025], [11.3, 0.015], [11.5, 0.02], [11.6, -0.005], [11.8, 0.01], [12.0, -0.02], [12.1, 0.025], [12.4, 0.003], [12.6, 0.005],
  [8.3, 0.015], [9.7, -0.02], [10.2, -0.032], [10.7, 0.0], [11.4, -0.03], [9.9, 0.03], [9.35, 0.06], [9.6, 0.075], [8.2, -0.01], [8.8, 0.008],
  [9.2, -0.012], [9.75, -0.068], [10.19, -0.053], [8.0, -0.071], [8.1, -0.07],
  // right tail
  [11.7, 0.031], [11.78, 0.022], [12.06, 0.034], [12.26, 0.056], [12.33, 0.047], [12.4, 0.032], [12.57, 0.014], [12.68, 0.018], [12.78, 0.029],
  [12.68, -0.006], [12.71, -0.018], [12.8, -0.022], [13.02, 0.005], [13.22, 0.014], [13.36, 0.012], [13.52, 0.016], [13.6, 0.012], [13.72, 0.012],
  [13.82, 0.016], [13.7, -0.029], [13.57, -0.066], [13.81, -0.04], [13.91, -0.047], [13.57, -0.031], [13.98, 0.016], [14.24, 0.004], [14.36, 0.006],
  [14.53, 0.004], [14.58, 0.038], [14.58, 0.03], [14.72, 0.025], [14.6, -0.002], [14.61, -0.014], [14.84, 0.0], [14.97, 0.004], [15.01, -0.006],
  [15.21, 0.029], [15.27, 0.011], [15.39, -0.004], [15.45, -0.01], [15.57, 0.033], [15.66, 0.012], [15.76, 0.001], [15.8, -0.005], [15.88, -0.006],
  [16.0, -0.025], [16.07, -0.003], [16.17, 0.009], [16.29, 0.006], [16.38, 0.027], [16.54, 0.031], [16.48, -0.004], [16.54, -0.019], [16.67, -0.007],
  [16.74, 0.01], [16.83, -0.007], [16.95, -0.009], [17.2, -0.025], [17.15, -0.023], [16.79, -0.023], [17.53, 0.022], [17.62, 0.032], [17.75, 0.012],
  [17.82, 0.001], [17.94, 0.035], [18.01, 0.016], [18.1, 0.023], [18.23, -0.003], [18.4, -0.009], [18.04, -0.01], [18.03, -0.017], [18.04, -0.025],
  [18.04, -0.026], [18.85, 0.018], [18.95, 0.027], [19.14, 0.007], [19.23, 0.016], [19.31, 0.016], [19.52, 0.014], [18.78, 0.05], [19.79, 0.034],
  [19.38, -0.04], [19.39, -0.04], [19.37, -0.027], [16.66, -0.054], [16.45, -0.052], [15.18, -0.051], [15.13, -0.07], [16.59, 0.077], [16.6, 0.077],
  [11.85, -0.007], [11.86, -0.008], [12.06, -0.022], [12.9, 0.01], [13.1, 0.008], [14.1, 0.005], [14.41, -0.016], [14.55, -0.017], [15.1, 0.02],
  [15.3, 0.024], [15.5, 0.03], [16.2, 0.01], [16.9, 0.004], [17.3, -0.026], [15.6, 0.008], [15.9, 0.004], [13.4, 0.006], [16.35, -0.05],
];

// Individual test points: [x, y] in eV/atom
const testPoints: [number, number][] = [
  // fringe around the core
  [0.3, 0.077], [0.45, 0.082], [0.6, 0.085], [0.75, 0.079], [0.85, 0.074], [0.95, 0.077], [1.1, 0.09], [1.3, 0.093], [1.5, 0.096], [1.7, 0.1],
  [1.6, 0.108], [1.8, 0.112], [2.0, 0.107], [2.1, 0.122], [2.2, 0.13], [2.4, 0.1], [2.6, 0.095], [2.8, 0.088], [2.5, 0.11], [2.7, 0.118],
  [1.4, 0.12], [3.0, 0.08], [3.3, 0.072], [3.6, 0.11], [3.2, 0.09], [0.2, 0.07], [0.1, 0.055], [0.45, 0.07],
  [0.05, -0.045], [0.15, -0.07], [0.22, -0.09], [0.3, -0.095], [0.4, -0.09], [0.55, -0.1], [0.7, -0.095], [0.9, -0.098], [1.0, -0.105], [1.2, -0.09],
  [1.4, -0.1], [1.6, -0.085], [1.7, -0.108], [1.9, -0.1], [2.1, -0.09], [2.3, -0.098], [2.5, -0.092], [2.7, -0.1], [2.9, -0.085], [3.1, -0.095],
  [3.3, -0.08], [3.5, -0.075], [0.0, -0.045], [0.0, 0.03],
  // inside the train cloud
  [3.6, 0.06], [3.7, 0.045], [3.8, 0.02], [3.9, -0.01], [3.75, -0.06], [3.85, -0.075], [4.0, 0.07], [4.05, 0.03], [4.1, -0.02], [4.15, -0.05],
  [4.2, 0.09], [4.25, 0.05], [4.3, 0.0], [4.35, -0.07], [4.4, -0.085], [4.45, 0.065], [4.5, 0.02], [4.55, -0.035], [4.6, 0.08], [4.65, 0.04],
  [4.7, -0.01], [4.75, -0.06], [4.8, 0.055], [4.85, 0.01], [4.9, -0.04], [4.95, -0.075], [5.0, 0.03], [5.05, -0.015], [5.1, 0.06], [5.15, -0.05],
  [5.2, 0.015], [5.25, -0.03], [5.3, 0.045], [5.35, -0.065], [5.4, 0.005], [5.45, -0.02], [5.5, 0.03], [5.55, -0.045], [5.6, 0.06], [5.7, -0.01],
  [5.75, 0.02], [5.8, -0.035], [5.9, 0.04], [5.95, -0.06], [6.0, 0.01], [6.05, -0.025], [6.1, 0.05], [6.2, -0.005], [6.25, 0.03], [6.3, -0.04],
  [6.4, 0.055], [6.45, 0.015], [6.5, -0.02], [6.6, 0.06], [6.65, 0.035], [6.7, -0.05], [6.8, 0.065], [6.9, 0.01], [7.0, -0.03], [7.1, 0.045],
  [7.2, 0.06], [6.55, -0.07], [6.3, -0.075], [6.0, -0.09], [5.7, -0.085], [5.5, -0.09], [5.2, -0.08], [4.9, -0.09], [4.6, -0.1], [4.3, -0.095],
  [4.0, -0.1], [3.7, -0.095], [7.4, 0.085], [7.3, 0.055], [7.6, 0.05], [7.65, 0.035], [7.8, 0.03], [7.9, 0.045], [8.0, 0.08], [8.1, 0.078],
  [7.9, 0.084], [8.3, 0.02], [7.5, -0.04], [7.7, -0.05], [7.9, -0.045], [8.1, -0.04], [7.0, -0.07], [7.2, -0.08], [6.9, -0.065], [6.8, -0.05],
  [6.6, -0.09], [4.2, 0.1], [4.1, 0.075], [5.0, 0.095], [5.5, 0.1], [6.2, 0.055], [6.4, 0.04], [6.0, 0.06], [6.3, 0.058], [6.95, 0.064],
  [7.5, 0.058], [7.7, 0.052],
  [3.72, 0.03], [3.78, -0.03], [3.95, 0.05], [4.0, -0.045], [4.12, 0.012], [4.22, -0.062], [4.38, 0.032], [4.42, -0.012], [4.58, 0.058], [4.62, -0.052],
  [4.78, 0.022], [4.82, -0.028], [4.98, 0.068], [5.02, -0.058], [5.18, 0.038], [5.22, -0.008], [5.38, 0.024], [5.42, -0.042], [5.58, 0.012], [5.62, -0.06],
  // scattered
  [6.71, 0.198], [12.16, 0.202], [12.28, 0.188], [10.24, 0.172], [11.29, 0.148], [8.25, 0.16], [8.39, 0.153], [9.28, 0.146], [8.39, 0.14], [8.78, 0.132],
  [8.3, 0.116], [7.36, 0.114], [7.31, 0.108], [6.9, 0.07], [7.84, 0.086], [8.04, 0.078], [8.08, 0.072], [10.33, 0.096], [9.73, 0.096], [9.73, 0.087],
  [10.55, 0.07], [11.47, 0.061], [10.74, 0.046], [11.92, 0.044], [10.07, 0.053], [15.18, 0.009], [15.33, -0.01], [11.37, -0.019], [18.74, 0.036], [19.88, -0.072],
  [12.73, -0.103], [11.96, -0.185], [13.31, -0.235], [10.6, -0.257], [10.82, -0.073], [10.48, -0.071], [9.95, -0.087], [9.71, -0.107], [9.31, -0.071], [9.16, -0.045],
  [9.28, -0.045], [8.4, -0.06], [8.83, -0.068], [7.6, -0.106], [6.17, -0.163], [5.71, -0.147], [5.44, -0.142], [4.27, -0.157], [4.3, -0.127], [2.49, -0.177],
  [3.53, -0.129], [3.57, -0.138], [3.24, -0.129], [2.59, -0.116], [0.6, -0.204], [0.63, -0.234], [0.63, -0.251], [0.77, -0.294], [0.84, -0.304], [0.7, -0.309],
  [0.77, -0.322], [0.46, -0.115], [0.46, -0.12], [0.53, -0.14], [0.6, -0.152], [1.27, -0.114], [1.85, -0.108], [1.6, -0.095],
  [8.5, 0.03], [8.9, 0.055], [9.35, 0.035], [8.2, -0.03], [8.6, -0.045], [9.05, -0.05], [9.5, -0.03], [10.6, -0.048], [10.05, -0.035], [12.3, 0.005],
  [11.6, -0.02], [6.6, 0.063], [7.1, 0.065],
];

function expand(cols: [number, number[]][]): number[][] {
  return cols.flatMap(([x, ys]) => ys.map((y) => [x, y / 1000]));
}

const trainData = [...expand(trainCols), ...trainPoints];
const testData = [...expand(testCore), ...expand(testCore2), ...testPoints];

export default function App() {
  const ref = useRef<HTMLDivElement>(null);
  useEffect(() => {
    if (!ref.current) return;
    const chart = echarts.init(ref.current, null, { renderer: 'svg' });
    const main = { fontSize: 134, fontFamily: FONT, lineHeight: 200, fill: '#000' };
    const sub = { fontSize: 94, fontFamily: FONT, lineHeight: 200, fill: '#000', padding: [72, 0, 0, 0] };
    const tickLabel = { fontSize: 111, fontFamily: FONT, color: '#000' };
    chart.setOption({
      animation: false,
      backgroundColor: '#fff',
      grid: {
        left: 526, top: 49, width: 2515, height: 2668, show: true,
        borderColor: '#000', borderWidth: 5.5, backgroundColor: 'rgba(0,0,0,0)', containLabel: false,
      },
      xAxis: {
        type: 'value', min: -1.0, max: 20.89,
        axisLine: { show: false, onZero: false }, splitLine: { show: false },
        axisTick: { show: true, length: 24, inside: false, lineStyle: { color: '#000', width: 5.5 }, customValues: xTicks },
        axisLabel: { ...tickLabel, margin: 41, customValues: xTicks, formatter: (v: number) => String(Math.round(v)) },
      },
      yAxis: {
        type: 'value', min: -0.3632, max: 0.5199,
        axisLine: { show: false, onZero: false }, splitLine: { show: false },
        axisTick: { show: true, length: 24, inside: false, lineStyle: { color: '#000', width: 5.5 }, customValues: yTicks },
        axisLabel: {
          ...tickLabel, margin: 50, customValues: yTicks,
          formatter: (v: number) => (v < -1e-9 ? '\u2212' : '') + Math.abs(v).toFixed(1),
        },
      },
      legend: {
        orient: 'vertical', left: 2329, top: 104, padding: [40, 44, 48, 131.5],
        itemWidth: 31, itemHeight: 108, itemGap: 55,
        backgroundColor: 'rgba(255,255,255,0.8)', borderColor: 'rgba(204,204,204,0.8)', borderWidth: 7, borderRadius: 22,
        selectedMode: false, icon: 'circle',
        itemStyle: { borderWidth: 6.5 },
        textStyle: { fontSize: 111, fontFamily: FONT, color: '#000', padding: [0, 0, 0, 181.5] },
        data: ['train', 'test'],
      },
      graphic: [
        {
          type: 'text', x: 1790, y: 2958,
          style: {
            text: '{m|E}{s|DFT}{m|-E}{s|chull}{g|[eV/atom]}',
            align: 'center', verticalAlign: 'middle',
            rich: { m: main, s: sub, g: { ...main, padding: [0, 0, 0, 43] } },
          },
        },
        {
          type: 'text', x: 104, y: 1383, rotation: Math.PI / 2,
          style: {
            text: '{m|E}{s|IP}{m|-E}{s|DFT}{g|[eV/atom]}',
            align: 'center', verticalAlign: 'middle',
            rich: { m: main, s: sub, g: { ...main, padding: [0, 0, 0, 85] } },
          },
        },
      ],
      series: [
        {
          type: 'scatter', name: 'train', data: trainData, symbol: 'circle', symbolSize: 31,
          large: false, progressive: 0, silent: true,
          itemStyle: { color: 'rgba(0,0,0,0)', borderColor: 'rgba(0,0,0,0.5)', borderWidth: 6.5 },
        },
        {
          type: 'scatter', name: 'test', data: testData, symbol: 'circle', symbolSize: 31,
          large: false, progressive: 0, silent: true,
          itemStyle: { color: 'rgba(0,0,0,0)', borderColor: 'rgba(255,0,0,0.45)', borderWidth: 6.5 },
        },
      ],
    });
    return () => chart.dispose();
  }, []);
  return <div ref={ref} style={{ position: 'absolute', left: 0, top: 0, width: 3090, height: 3081 }} />;
}
